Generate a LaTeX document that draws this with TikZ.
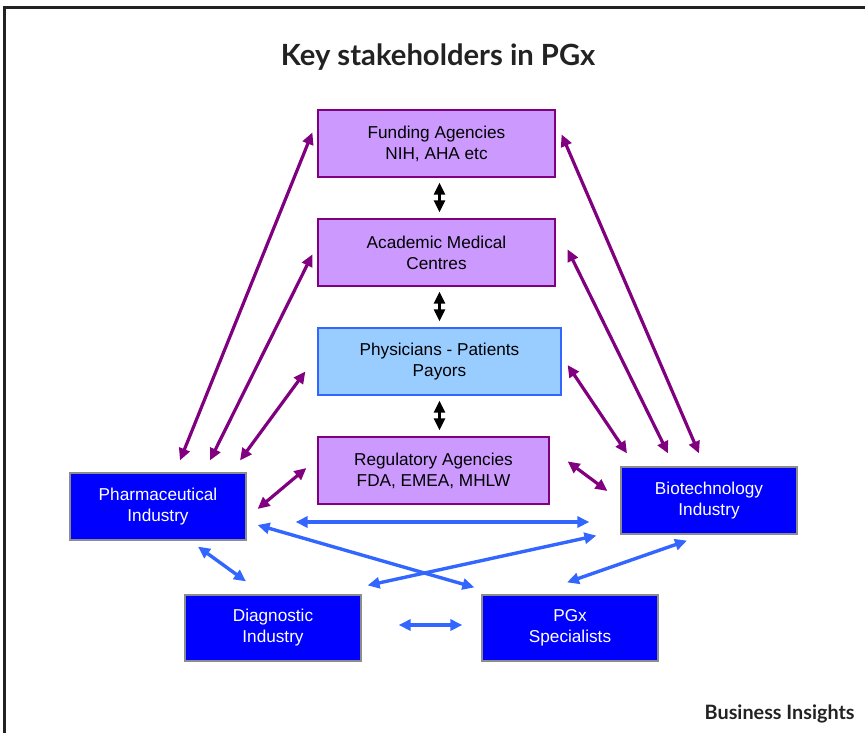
\documentclass[tikz,border=0pt]{standalone}
\usepackage{fontspec}
\setmainfont{Liberation Sans}
\newfontfamily\titlefont{Lato}
\usetikzlibrary{arrows.meta, positioning, calc}
\definecolor{lilac}{HTML}{CC99FF}
\definecolor{plum}{HTML}{800080}
\definecolor{skyblue}{HTML}{99CCFF}
\definecolor{royal}{HTML}{3366FF}
\definecolor{pureblue}{HTML}{0000FF}
\definecolor{ink}{HTML}{222222}

\begin{document}
\begin{tikzpicture}[
    x=0.5pt, y=-0.5pt,
    >={Triangle[length=6pt,width=5.5pt]},
    font=\fontsize{8.6pt}{10.5pt}\selectfont,
    base/.style={draw, align=center, line width=0.6pt, inner sep=0pt, minimum height=33.5pt},
    agency/.style={base, rectangle, draw=plum, fill=lilac, minimum width=118.5pt},
    clinic/.style={base, rectangle, draw=royal, fill=skyblue, minimum width=121.5pt},
    industry/.style={base, rectangle, draw=black!45, fill=pureblue, text=white, minimum width=88pt},
    purplearrow/.style={<->, line width=1.6pt, plum},
    bluearrow/.style={<->, line width=1.7pt, royal},
    blackarrow/.style={<->, line width=1.2pt, black}
  ]
    \useasboundingbox (0,0) rectangle (865,733);
    % frame
    \draw[line width=1.5pt, ink] (3,8) -- (865,8);
    \draw[line width=1.5pt, ink] (4,8) -- (4,733);
    \node[font=\titlefont\bfseries\fontsize{14.6pt}{16pt}\selectfont, text=ink] (title) at (438,57) {Key stakeholders in PGx};
    \node[font=\titlefont\bfseries\fontsize{9.9pt}{11pt}\selectfont, text=ink, anchor=east, inner sep=0pt] (credit) at (855,714) {Business Insights};

    % centre column
    \node[agency] (funding) at (436.5,143.5) {Funding Agencies\\NIH, AHA etc};
    \node[agency] (academic) at (436.5,252.5) {Academic Medical\\Centres};
    \node[clinic] (physicians) at (439.5,361.5) {Physicians - Patients\\Payors};
    \node[agency, minimum width=115.5pt] (regulatory) at (433.5,470.5) {Regulatory Agencies\\FDA, EMEA, MHLW};

    % industry boxes
    \node[industry] (pharma) at (158,506.5) {Pharmaceutical\\Industry};
    \node[industry] (biotech) at (709,500.5) {Biotechnology\\Industry};
    \node[industry, minimum height=33pt] (diagnostic) at (273,628) {Diagnostic\\Industry};
    \node[industry, minimum height=33pt] (pgx) at (570,628) {PGx\\Specialists};

    % centre links
    \draw[blackarrow] ($(funding.south)+(3,5)$) -- ($(academic.north)+(3,-6)$);
    \draw[blackarrow] ($(academic.south)+(3,5)$) -- ($(physicians.north)+(0,-6)$);
    \draw[blackarrow] ($(physicians.south)+(0,5)$) -- ($(regulatory.north)+(6,-6)$);

    % pharma links
    \draw[purplearrow] ($(pharma.north)+(22,-12)$) -- ($(funding.north west)+(-5,23)$);
    \draw[purplearrow] ($(pharma.north)+(52,-12)$) -- ($(academic.north west)+(-5,36)$);
    \draw[purplearrow] ($(pharma.north)+(82,-12)$) -- ($(physicians.north west)+(-12,44)$);
    \draw[purplearrow] ($(pharma.east)+(11,2.5)$) -- ($(regulatory.west)+(-11,-2.5)$);

    % biotech links
    \draw[purplearrow] ($(biotech.north)+(-10,-13)$) -- ($(funding.north east)+(6,25)$);
    \draw[purplearrow] ($(biotech.north)+(-41,-13)$) -- ($(academic.north east)+(12,31)$);
    \draw[purplearrow] ($(biotech.north)+(-82,-13)$) -- ($(physicians.east)+(6,3.5)$);
    \draw[purplearrow] ($(biotech.west)+(-13,-9.5)$) -- ($(regulatory.north east)+(18,25)$);

    % industry links
    \draw[bluearrow] ($(pharma.east)+(49,15.5)$) -- ($(biotech.west)+(-31,21.5)$);
    \draw[bluearrow] ($(pharma.east)+(11,18.5)$) -- ($(pgx.north west)+(-7,-7)$);
    \draw[bluearrow] ($(biotech.south west)+(-24,1)$) -- ($(diagnostic.north east)+(6,-9)$);
    \draw[bluearrow] ($(pharma.south)+(40,6)$) -- ($(diagnostic.north)+(-27,-13)$);
    \draw[bluearrow] ($(diagnostic.east)+(37,-3)$) -- ($(pgx.west)+(-19,-3)$);
    \draw[bluearrow] ($(biotech.south)+(-22,6)$) -- ($(pgx.north)+(-3,-12)$);
\end{tikzpicture}
\end{document}
